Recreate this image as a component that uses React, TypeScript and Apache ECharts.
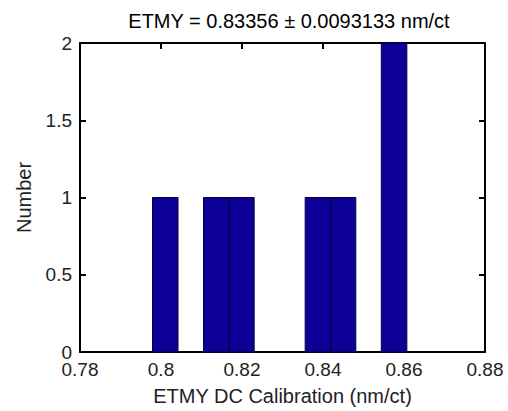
import React, { useEffect, useRef } from "react";
import * as echarts from "echarts";

const titleText = "ETMY = 0.83356 \u00b1 0.0093133 nm/ct";
const xName = "ETMY DC Calibration (nm/ct)";
const yName = "Number";
const binEdges = [0.7979, 0.8042, 0.8105, 0.8168, 0.823, 0.8293, 0.8356, 0.8419, 0.8481, 0.8544, 0.8607];
const counts = [1, 0, 1, 1, 0, 0, 1, 1, 0, 2];
const xTicks = [0.78, 0.8, 0.82, 0.84, 0.86, 0.88];
const yTicks = [0, 0.5, 1, 1.5, 2];

const FONT = "'Liberation Sans', Arial, Helvetica, sans-serif";

export default function App() {
  const ref = useRef<HTMLDivElement>(null);
  useEffect(() => {
    if (!ref.current) return;
    const chart = echarts.init(ref.current, null, { renderer: "svg" });
    const data = counts
      .map((c, i) => [binEdges[i], binEdges[i + 1], c])
      .filter((d) => d[2] > 0);
    const fmt = (v: number) => String(parseFloat(v.toFixed(2)));
    const axisLine = { show: true, onZero: false, lineStyle: { color: "#000", width: 2 } };
    const axisTick = { show: true, inside: true, length: 6, lineStyle: { color: "#000", width: 2 } };
    const labelStyle = { color: "#222", fontSize: 19, fontFamily: FONT };
    chart.setOption({
      animation: false,
      backgroundColor: "#fff",
      title: {
        text: titleText,
        left: 284,
        textAlign: "center",
        top: 6,
        textStyle: { color: "#000", fontSize: 20, fontWeight: "normal", fontFamily: FONT },
      },
      grid: { left: 80, right: 23, top: 43, bottom: 57, containLabel: false },
      xAxis: [
        {
          type: "value",
          min: xTicks[0],
          max: xTicks[xTicks.length - 1],
          interval: 0.02,
          position: "bottom",
          axisLine,
          axisTick,
          splitLine: { show: false },
          axisLabel: { ...labelStyle, margin: 8, formatter: fmt },
          name: xName,
          nameLocation: "middle",
          nameGap: 34,
          nameTextStyle: { color: "#222", fontSize: 20, fontFamily: FONT },
        },
        {
          type: "value",
          min: xTicks[0],
          max: xTicks[xTicks.length - 1],
          interval: 0.02,
          position: "top",
          axisLine,
          axisTick,
          splitLine: { show: false },
          axisLabel: { show: false },
        },
      ],
      yAxis: [
        {
          type: "value",
          min: yTicks[0],
          max: yTicks[yTicks.length - 1],
          interval: 0.5,
          position: "left",
          axisLine,
          axisTick,
          splitLine: { show: false },
          axisLabel: { ...labelStyle, margin: 8, formatter: (v: number) => String(v) },
          name: yName,
          nameLocation: "middle",
          nameGap: 46,
          nameTextStyle: { color: "#222", fontSize: 20, fontFamily: FONT },
        },
        {
          type: "value",
          min: yTicks[0],
          max: yTicks[yTicks.length - 1],
          interval: 0.5,
          position: "right",
          axisLine,
          axisTick,
          splitLine: { show: false },
          axisLabel: { show: false },
        },
      ],
      series: [
        {
          type: "custom",
          xAxisIndex: 0,
          yAxisIndex: 0,
          data,
          encode: { x: [0, 1], y: 2 },
          renderItem: (params: any, api: any) => {
            const p1 = api.coord([api.value(0), api.value(2)]);
            const p2 = api.coord([api.value(1), 0]);
            return {
              type: "rect",
              shape: { x: p1[0], y: p1[1], width: p2[0] - p1[0], height: p2[1] - p1[1] },
              style: { fill: "#0c0096", stroke: "#000040", lineWidth: 1 },
            };
          },
          z: 1,
        },
      ],
    });
    return () => chart.dispose();
  }, []);
  return (
    <div
      ref={ref}
      style={{ position: "fixed", left: 0, top: 0, width: 508, height: 411, background: "#fff" }}
    />
  );
}
